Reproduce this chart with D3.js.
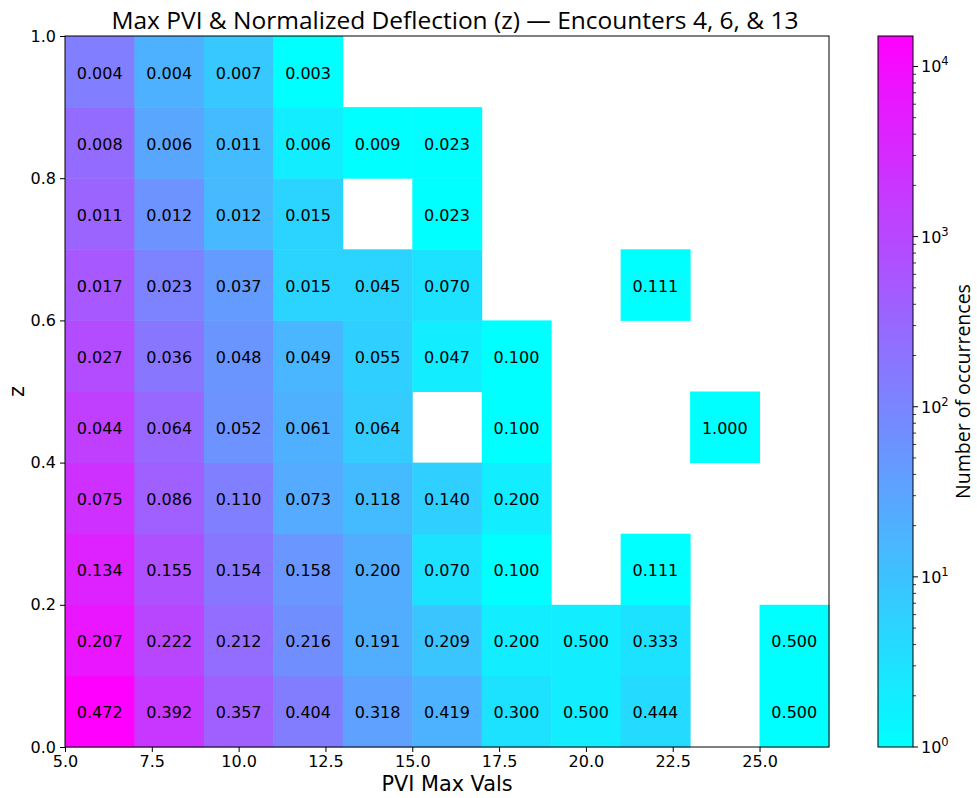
<!DOCTYPE html>
<html>
<head>
<meta charset="utf-8">
<script src="https://cdn.jsdelivr.net/npm/d3@7"></script>
<style>
  body { margin: 0; background: #fff; }
  svg { display: block; font-family: "DejaVu Sans", sans-serif; }
</style>
</head>
<body>
<svg id="chart" width="977" height="798"></svg>
<script>
// ---- data ----
const xEdges = [5, 7, 9, 11, 13, 15, 17, 19, 21, 23, 25, 27];
const yEdges = [0, 0.1, 0.2, 0.3, 0.4, 0.5, 0.6, 0.7, 0.8, 0.9, 1.0];
// column-normalised fractions, one array per PVI bin, rows from z=0 upward (null = empty)
const col05 = [0.472, 0.207, 0.134, 0.075, 0.044, 0.027, 0.017, 0.011, 0.008, 0.004];
const col07 = [0.392, 0.222, 0.155, 0.086, 0.064, 0.036, 0.023, 0.012, 0.006, 0.004];
const col09 = [0.357, 0.212, 0.154, 0.110, 0.052, 0.048, 0.037, 0.012, 0.011, 0.007];
const col11 = [0.404, 0.216, 0.158, 0.073, 0.061, 0.049, 0.015, 0.015, 0.006, 0.003];
const col13 = [0.318, 0.191, 0.200, 0.118, 0.064, 0.055, 0.045, null, 0.009, null];
const col15 = [0.419, 0.209, 0.070, 0.140, null, 0.047, 0.070, 0.023, 0.023, null];
const col17 = [0.300, 0.200, 0.100, 0.200, 0.100, 0.100, null, null, null, null];
const col19 = [0.500, 0.500, null, null, null, null, null, null, null, null];
const col21 = [0.444, 0.333, 0.111, null, null, null, 0.111, null, null, null];
const col23 = [null, null, null, null, 1.000, null, null, null, null, null];
const col25 = [0.500, 0.500, null, null, null, null, null, null, null, null];
const fractions = [col05, col07, col09, col11, col13, col15, col17, col19, col21, col23, col25];
// estimated number of occurrences per PVI column (from colours)
const colTotals = [32000, 4800, 1152, 329, 110, 43, 10, 4, 9, 1, 2];
const xTicks = [5, 7.5, 10, 12.5, 15, 17.5, 20, 22.5, 25];
const yTicks = [0, 0.2, 0.4, 0.6, 0.8, 1.0];
const cbTicks = [1, 10, 100, 1000, 10000];

// ---- build cells ----
const cells = [];
fractions.forEach((col, i) => {
  col.forEach((f, j) => {
    if (f === null) return;
    cells.push({
      x0: xEdges[i], x1: xEdges[i + 1], y0: yEdges[j], y1: yEdges[j + 1],
      frac: f, count: Math.max(1, Math.round(f * colTotals[i]))
    });
  });
});
const vmax = d3.max(cells, d => d.count);

const svg = d3.select("#chart");
const L = 65, R = 829, T = 36, B = 747;
const x = d3.scaleLinear().domain([5, 27]).range([L, R]);
const y = d3.scaleLinear().domain([0, 1]).range([B, T]);
const cnorm = d3.scaleLog().domain([1, vmax]).range([0, 1]).clamp(true);
const cool = d3.interpolateRgb("#00ffff", "#ff00ff");
const color = c => cool(cnorm(c));

// cells
svg.append("g").selectAll("rect").data(cells).join("rect")
  .attr("x", d => x(d.x0)).attr("y", d => y(d.y1))
  .attr("width", d => x(d.x1) - x(d.x0) + 0.5)
  .attr("height", d => y(d.y0) - y(d.y1) + 0.5)
  .attr("fill", d => color(d.count));

svg.append("g").selectAll("text").data(cells).join("text")
  .attr("x", d => (x(d.x0) + x(d.x1)) / 2)
  .attr("y", d => (y(d.y0) + y(d.y1)) / 2 + 1.5)
  .attr("text-anchor", "middle").attr("dominant-baseline", "central")
  .attr("font-size", 16).attr("fill", "#000")
  .text(d => d3.format(".3f")(d.frac));

// frame
svg.append("rect").attr("x", L).attr("y", T).attr("width", R - L).attr("height", B - T)
  .attr("fill", "none").attr("stroke", "#000").attr("stroke-width", 1);

// axes
const xAxis = svg.append("g").attr("transform", `translate(0,${B})`)
  .call(d3.axisBottom(x).tickValues(xTicks).tickFormat(d3.format(".1f")).tickSize(5).tickPadding(4));
const yAxis = svg.append("g").attr("transform", `translate(${L},0)`)
  .call(d3.axisLeft(y).tickValues(yTicks).tickFormat(d3.format(".1f")).tickSize(5).tickPadding(4));
[xAxis, yAxis].forEach(a => {
  a.select(".domain").remove();
  a.selectAll("text").attr("font-size", 16).attr("font-family", "DejaVu Sans").attr("fill", "#000");
  a.selectAll("line").attr("stroke", "#000");
});

// labels
svg.append("text").attr("x", 455).attr("y", 29).attr("text-anchor", "middle")
  .attr("font-family", "Open Sans").attr("font-size", 24.5)
  .text("Max PVI & Normalized Deflection (z) \u2014 Encounters 4, 6, & 13");
svg.append("text").attr("x", (L + R) / 2).attr("y", 791).attr("text-anchor", "middle")
  .attr("font-size", 20.8).text("PVI Max Vals");
svg.append("text").attr("transform", `translate(24,${(T + B) / 2}) rotate(-90)`)
  .attr("text-anchor", "middle").attr("font-size", 20.8).text("z");

// colorbar
const CL = 878, CR = 913;
const cy = d3.scaleLog().domain([1, vmax]).range([B, T]);
const defs = svg.append("defs");
const grad = defs.append("linearGradient").attr("id", "cb").attr("x1", 0).attr("y1", 1).attr("x2", 0).attr("y2", 0);
d3.range(0, 1.0001, 0.05).forEach(t => grad.append("stop").attr("offset", t).attr("stop-color", cool(t)));
svg.append("rect").attr("x", CL).attr("y", T).attr("width", CR - CL).attr("height", B - T)
  .attr("fill", "url(#cb)").attr("stroke", "#000").attr("stroke-width", 1);

const minor = [];
for (let e = 0; e < 5; e++) for (let m = 2; m <= 9; m++) {
  const v = m * Math.pow(10, e);
  if (v <= vmax) minor.push(v);
}
svg.append("g").selectAll("line").data(minor).join("line")
  .attr("x1", CR).attr("x2", CR + 3).attr("y1", d => cy(d)).attr("y2", d => cy(d))
  .attr("stroke", "#000").attr("stroke-width", 0.8);
svg.append("g").selectAll("line").data(cbTicks).join("line")
  .attr("x1", CR).attr("x2", CR + 5).attr("y1", d => cy(d)).attr("y2", d => cy(d))
  .attr("stroke", "#000");
const cbl = svg.append("g").selectAll("text").data(cbTicks).join("text")
  .attr("x", CR + 8).attr("y", d => cy(d) + 6).attr("font-size", 16);
cbl.append("tspan").text("10");
cbl.append("tspan").attr("dy", -7).attr("font-size", 11.5).text(d => Math.round(Math.log10(d)));

svg.append("text").attr("transform", `translate(970,${(T + B) / 2}) rotate(-90)`)
  .attr("text-anchor", "middle").attr("font-family", "Open Sans").attr("font-size", 19.5)
  .text("Number of occurrences");
</script>
</body>
</html>
